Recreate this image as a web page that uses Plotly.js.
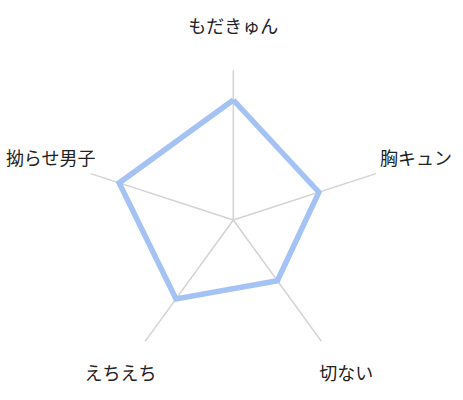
<!DOCTYPE html>
<html>
<head>
<meta charset="utf-8">
<script src="https://cdn.plot.ly/plotly-3.0.1.min.js"></script>
<style>
html,body{margin:0;padding:0;background:#fff;overflow:hidden;}
#chart{width:463px;height:400px;}
</style>
</head>
<body>
<div id="chart"></div>
<script>
const categories = ["もだきゅん", "胸キュン", "切ない", "えちえち", "拗らせ男子"];
const values = [8, 6, 5, 6.5, 8];
const maxValue = 10;

const FONT = '"Noto Sans CJK JP", "Noto Sans", sans-serif';
const W = 463, H = 400;
const CX = 233.3, CY = 180;      // polar centre (px from left / bottom)
const RPX = 150;                 // pixel radius of maxValue
const unit = maxValue / RPX;     // data units per pixel
const labelR = maxValue * 1.28;

const closedCats = categories.concat([categories[0]]);
const closedVals = values.concat([values[0]]);

// label positions in the same units as the polar radius
const step = 360 / categories.length;
const labelX = categories.map((c, i) => labelR * Math.cos((90 - step * i) * Math.PI / 180));
const labelY = categories.map((c, i) => labelR * Math.sin((90 - step * i) * Math.PI / 180));

const traces = [
  {
    type: 'scatterpolar',
    mode: 'lines',
    theta: closedCats,
    r: closedVals,
    line: {color: '#a4c2f4', width: 5.5},
    hoverinfo: 'skip',
    showlegend: false
  },
  {
    type: 'scatter',
    mode: 'text',
    x: labelX,
    y: labelY,
    text: categories,
    textposition: 'middle center',
    textfont: {family: FONT, size: 18, color: '#222222'},
    hoverinfo: 'skip',
    cliponaxis: false,
    showlegend: false
  }
];

const layout = {
  width: W,
  height: H,
  margin: {l: 0, r: 0, t: 0, b: 0},
  paper_bgcolor: '#ffffff',
  plot_bgcolor: 'rgba(0,0,0,0)',
  showlegend: false,
  xaxis: {
    domain: [0, 1],
    range: [-CX * unit, (W - CX) * unit],
    visible: false, fixedrange: true
  },
  yaxis: {
    domain: [0, 1],
    range: [-CY * unit, (H - CY) * unit],
    visible: false, fixedrange: true
  },
  polar: {
    domain: {x: [(CX - RPX) / W, (CX + RPX) / W], y: [(CY - RPX) / H, (CY + RPX) / H]},
    bgcolor: 'rgba(0,0,0,0)',
    radialaxis: {
      range: [0, maxValue],
      visible: false,
      showgrid: false,
      showline: false,
      showticklabels: false,
      ticks: ''
    },
    angularaxis: {
      direction: 'clockwise',
      rotation: 90,
      showline: false,
      showgrid: true,
      gridcolor: '#d3d3d3',
      gridwidth: 1.5,
      showticklabels: false,
      ticks: ''
    }
  }
};

Plotly.newPlot('chart', traces, layout, {staticPlot: true, displayModeBar: false});
</script>
</body>
</html>
